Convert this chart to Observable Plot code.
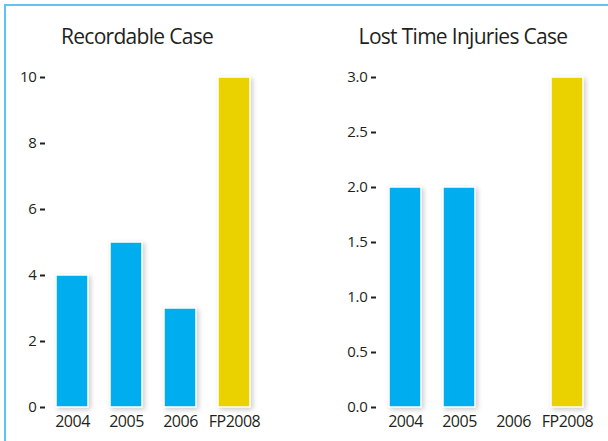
<!DOCTYPE html>
<html>
<head>
<meta charset="utf-8">
<script src="https://cdn.jsdelivr.net/npm/d3@7"></script>
<script src="https://cdn.jsdelivr.net/npm/@observablehq/plot@0.6"></script>
<style>
  html, body { margin: 0; padding: 0; background: #fff; }
  #wrap { position: relative; width: 608px; height: 441px; overflow: hidden; background: #fff; font-family: "Open Sans", sans-serif; color: #231f20; }
  #frame { position: absolute; left: 4px; top: 4px; right: -10px; bottom: -10px; border-top: 2px solid #5cc6f0; border-left: 2px solid #5cc6f0; }
  .title { position: absolute; top: 22px; font-size: 21px; letter-spacing: -0.7px; white-space: nowrap; transform: translateX(-50%); color: #231f20; }
  .panel { position: absolute; top: 0; }
  .panel svg { overflow: visible; }
  g[aria-label="bar"] rect { filter: drop-shadow(2px 2px 2.5px rgba(0,0,0,0.2)); }
  g[aria-label="y-axis tick label"] text { letter-spacing: -0.3px; }
  g[aria-label="x-axis tick label"] text { letter-spacing: -0.5px; }
</style>
</head>
<body>
<div id="wrap">
  <div id="frame"></div>
  <div class="title" id="t1" style="left:137px">Recordable Case</div>
  <div class="title" id="t2" style="left:463px">Lost Time Injuries Case</div>
  <div class="panel" id="p1" style="left:0px"></div>
  <div class="panel" id="p2" style="left:304px"></div>
</div>
<script>
const categories = ["2004", "2005", "2006", "FP2008"];
const recordable = [4, 5, 3, 10];
const lostTime = [2, 2, 0, 3];
const barColors = ["#00aeef", "#00aeef", "#00aeef", "#e9d200"];
const recordableTicks = [0, 2, 4, 6, 8, 10];
const lostTimeTicks = [0, 0.5, 1, 1.5, 2, 2.5, 3];

function panel(values, ticks, yMax, fmt, xRange, marginLeft) {
  const data = categories.map((c, i) => ({cat: c, value: values[i], color: barColors[i]}));
  return Plot.plot({
    width: 304,
    height: 441,
    marginTop: 77,
    marginBottom: 34,
    marginLeft: marginLeft,
    marginRight: 0,
    style: {fontFamily: "Open Sans, sans-serif", fontSize: "14px", color: "#231f20", background: "transparent"},
    x: {domain: categories, range: xRange, paddingInner: 0.4, paddingOuter: 0.2},
    y: {domain: [0, yMax]},
    marks: [
      Plot.barY(data.filter(d => d.value > 0), {x: "cat", y: "value", fill: "color", stroke: "#fff", strokeWidth: 1.5}),
      Plot.axisY({ticks: ticks, tickFormat: fmt, tickSize: 5, tickPadding: 4, strokeWidth: 2, stroke: "#231f20", fontSize: 15, label: null, fill: "#231f20"}),
      Plot.axisX({tickSize: 0, tickPadding: 8, fontSize: 16, label: null, fill: "#231f20"})
    ]
  });
}

document.getElementById("p1").appendChild(panel(recordable, recordableTicks, 10, d3.format("d"), [45.2, 261.2], 45));
document.getElementById("p2").appendChild(panel(lostTime, lostTimeTicks, 3, d3.format(".1f"), [73.1, 290.3], 72));
</script>
</body>
</html>
